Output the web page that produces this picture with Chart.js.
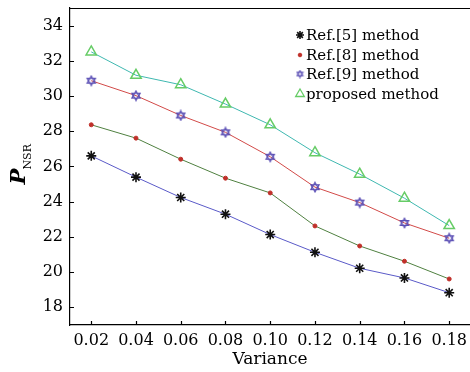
<!DOCTYPE html>
<html>
<head>
<meta charset="utf-8">
<script src="https://cdn.jsdelivr.net/npm/chart.js@4/dist/chart.umd.min.js"></script>
<style>
html, body { margin: 0; padding: 0; background: #fff; }
#wrap { width: 470px; height: 372px; }
</style>
</head>
<body>
<div id="wrap"><canvas id="chart" width="470" height="372"></canvas></div>
<script>
// data
var variance = [0.02, 0.04, 0.06, 0.08, 0.10, 0.12, 0.14, 0.16, 0.18];
var ref5 = [26.6, 25.39, 24.23, 23.28, 22.12, 21.11, 20.2, 19.65, 18.81];
var ref8 = [28.37, 27.61, 26.41, 25.33, 24.49, 22.61, 21.47, 20.6, 19.59];
var ref9 = [30.88, 30.03, 28.9, 27.94, 26.55, 24.82, 23.94, 22.78, 21.91];
var proposed = [32.52, 31.19, 30.65, 29.55, 28.37, 26.78, 25.56, 24.19, 22.63];
var labels = ['Ref.[5] method', 'Ref.[8] method', 'Ref.[9] method', 'proposed method'];
var yTicks = [18, 20, 22, 24, 26, 28, 30, 32, 34];

var serif = "'DejaVu Serif', serif";

function toPoints(arr) {
    return arr.map(function(v, i){ return {x: variance[i], y: v}; });
}

// six pointed star marker
function hexagram(size, color, lw) {
    var c = document.createElement('canvas');
    c.width = size; c.height = size;
    var g = c.getContext('2d');
    var r = size / 2 - lw;
    var cx = size / 2, cy = size / 2;
    g.strokeStyle = color;
    g.lineWidth = lw;
    for (var t = 0; t < 2; t++) {
        g.beginPath();
        for (var k = 0; k < 3; k++) {
            var a = -Math.PI / 2 + t * Math.PI + k * 2 * Math.PI / 3;
            var px = cx + r * Math.cos(a), py = cy + r * Math.sin(a);
            if (k == 0) g.moveTo(px, py); else g.lineTo(px, py);
        }
        g.closePath();
        g.stroke();
    }
    return c;
}
var hexBig = hexagram(12, '#5b4fb5', 1.2);
var hexSmall = hexagram(9, '#5b4fb5', 1.1);

var legendMarks = [
    {pointStyle: 'star', radius: 4, borderWidth: 1.6, color: '#111', fill: '#111'},
    {pointStyle: 'circle', radius: 1.8, borderWidth: 1, color: '#c0302a', fill: '#c0302a'},
    {pointStyle: hexSmall, radius: 4, borderWidth: 1, color: '#5b4fb5', fill: 'rgba(0,0,0,0)'},
    {pointStyle: 'triangle', radius: 5, borderWidth: 1.3, color: '#66cc66', fill: 'rgba(0,0,0,0)'}
];

var extras = {
    id: 'extras',
    afterDraw: function(chart) {
        var ctx = chart.ctx;
        var a = chart.chartArea;
        var xs = chart.scales.x, ys = chart.scales.y;
        ctx.save();
        // top frame line
        ctx.strokeStyle = '#000';
        ctx.lineWidth = 1;
        ctx.beginPath();
        ctx.moveTo(a.left, a.top + 0.5);
        ctx.lineTo(a.right, a.top + 0.5);
        ctx.stroke();
        // inward ticks
        ctx.lineWidth = 1.2;
        ctx.beginPath();
        yTicks.forEach(function(v){
            var py = Math.round(ys.getPixelForValue(v)) + 0.5;
            ctx.moveTo(a.left, py); ctx.lineTo(a.left + 4, py);
        });
        variance.forEach(function(v){
            var px = Math.round(xs.getPixelForValue(v)) + 0.5;
            ctx.moveTo(px, a.bottom); ctx.lineTo(px, a.bottom - 4);
        });
        ctx.stroke();

        // x title
        ctx.fillStyle = '#000';
        ctx.font = '17px ' + serif;
        ctx.textAlign = 'center';
        ctx.textBaseline = 'middle';
        ctx.fillText('Variance', (a.left + a.right) / 2, 360);

        // y title P_NSR
        ctx.save();
        ctx.translate(0, (a.top + a.bottom) / 2);
        ctx.rotate(-Math.PI / 2);
        ctx.textAlign = 'left';
        ctx.textBaseline = 'alphabetic';
        ctx.font = 'italic bold 21px ' + serif;
        ctx.fillText('P', -18, 25);
        ctx.font = '11px ' + serif;
        ctx.fillText('NSR', -3, 31);
        ctx.restore();

        // legend
        ctx.font = '15px ' + serif;
        ctx.textAlign = 'left';
        ctx.textBaseline = 'middle';
        var rows = [35, 55, 74, 94];
        labels.forEach(function(lab, i){
            var m = legendMarks[i];
            ctx.strokeStyle = m.color;
            ctx.fillStyle = m.fill;
            ctx.lineWidth = m.borderWidth;
            Chart.helpers.drawPoint(ctx, {pointStyle: m.pointStyle, radius: m.radius, borderWidth: m.borderWidth, rotation: 0}, 300, rows[i]);
            ctx.fillStyle = '#000';
            ctx.fillText(lab, 306, rows[i] + 1);
        });
        ctx.restore();
    }
};

var myChart = new Chart(document.getElementById('chart').getContext('2d'), {
    type: 'line',
    data: {
        datasets: [{
            label: labels[0],
            data: toPoints(ref5),
            borderColor: '#5a5ac8',
            borderWidth: 1,
            pointStyle: 'star',
            pointRadius: 5,
            pointBorderColor: '#111',
            pointBorderWidth: 1.6,
            pointBackgroundColor: '#111'
        }, {
            label: labels[1],
            data: toPoints(ref8),
            borderColor: '#4f8040',
            borderWidth: 1,
            pointStyle: 'circle',
            pointRadius: 2,
            pointBorderColor: '#c0302a',
            pointBorderWidth: 1,
            pointBackgroundColor: '#c0302a'
        }, {
            label: labels[2],
            data: toPoints(ref9),
            borderColor: '#d24a48',
            borderWidth: 1,
            pointStyle: hexBig,
            pointRadius: 6,
            pointBackgroundColor: 'rgba(0,0,0,0)'
        }, {
            label: labels[3],
            data: toPoints(proposed),
            borderColor: '#3fb8b0',
            borderWidth: 1,
            pointStyle: 'triangle',
            pointRadius: 6,
            pointBorderColor: '#66cc66',
            pointBorderWidth: 1.5,
            pointBackgroundColor: 'rgba(0,0,0,0)'
        }]
    },
    options: {
        responsive: false,
        animation: false,
        devicePixelRatio: 1,
        layout: { autoPadding: false, padding: { top: 8, right: 0, left: 0, bottom: 0 } },
        plugins: { legend: { display: false }, tooltip: { enabled: false } },
        elements: { line: { tension: 0 } },
        scales: {
            x: {
                type: 'linear',
                min: 0.0105,
                max: 0.1893,
                afterFit: function(s){ s.height = 47; s.paddingLeft = 0; s.paddingRight = 0; },
                afterBuildTicks: function(s){ s.ticks = variance.map(function(v){ return {value: v}; }); },
                grid: { drawOnChartArea: false, drawTicks: false },
                border: { color: '#000', width: 1.2 },
                ticks: {
                    padding: 6,
                    color: '#000',
                    font: { family: serif, size: 16 },
                    maxRotation: 0,
                    autoSkip: false,
                    callback: function(v){ return v.toFixed(2); }
                }
            },
            y: {
                min: 16.97,
                max: 35.02,
                afterFit: function(s){ s.width = 70; s.paddingTop = 0; s.paddingBottom = 0; },
                afterBuildTicks: function(s){ s.ticks = yTicks.map(function(v){ return {value: v}; }); },
                grid: { drawOnChartArea: false, drawTicks: false },
                border: { color: '#000', width: 1.2 },
                ticks: {
                    padding: 7,
                    color: '#000',
                    font: { family: serif, size: 16 }
                }
            }
        }
    },
    plugins: [extras]
});
</script>
</body>
</html>
